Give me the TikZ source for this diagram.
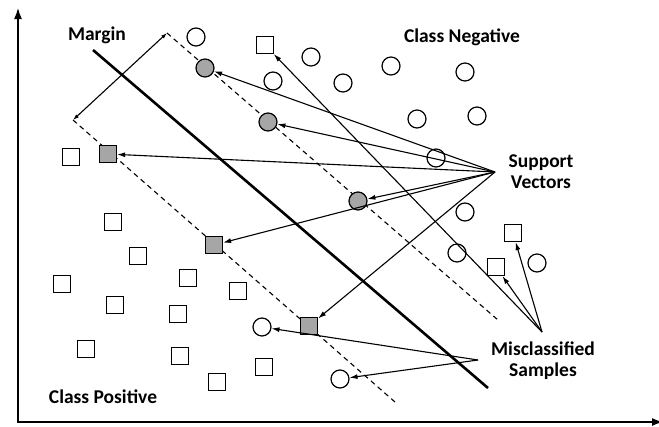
\documentclass[tikz,border=0pt]{standalone}
\usepackage{fontspec}
\setmainfont{Carlito}
\usetikzlibrary{arrows.meta,positioning}

\begin{document}
\begin{tikzpicture}[x=1pt,y=-1pt,
    negpt/.style={circle, draw, line width=1.2pt, minimum size=18pt, inner sep=0pt},
    pospt/.style={rectangle, draw, line width=1.2pt, minimum size=17pt, inner sep=0pt},
    suppt/.style={fill=gray!70},
    lbl/.style={font=\bfseries\fontsize{19.5}{21}\selectfont, align=center, inner sep=0pt},
    ptr/.style={-{Latex[length=8pt,width=5pt]}, line width=1.1pt},
    axis/.style={line width=2.4pt, {Latex[length=12pt,width=8pt]}-{Latex[length=12pt,width=8pt]}}]
    \useasboundingbox (0,0) rectangle (659,426);
    % axes
    \coordinate(ytop) at (18,7);
    \coordinate(orig) at (18,422);
    \coordinate(xend) at (664,422);
    \draw[axis] (ytop) -- (orig) -- (xend);
    % separating line and margins
    \coordinate(hp1) at (93,50);
    \coordinate(hp2) at (488,388);
    \coordinate(mgU1) at (167,33);
    \coordinate(mgU2) at (498,320);
    \coordinate(mgL1) at (73,120);
    \coordinate(mgL2) at (395,402);
    \draw[line width=2.6pt] (hp1) -- (hp2);
    \draw[line width=1.1pt, dash pattern=on 5pt off 4pt] (mgU1) -- (mgU2);
    \draw[line width=1.1pt, dash pattern=on 5pt off 4pt] (mgL1) -- (mgL2);
    \draw[line width=1.1pt, {Latex[length=6pt,width=4pt]}-{Latex[length=6pt,width=4pt]}] (mgL1) -- (mgU1);
    % class negative
    \node(n1) [negpt] at (196,37) {};
    \node(n2) [negpt] at (311,57) {};
    \node(n3) [negpt] at (273,81) {};
    \node(n4) [negpt] at (343,83) {};
    \node(n5) [negpt] at (391,66) {};
    \node(n6) [negpt] at (465,72) {};
    \node(n7) [negpt] at (417,119) {};
    \node(n8) [negpt] at (477,116) {};
    \node(n9) [negpt] at (436,158) {};
    \node(n10) [negpt] at (465,212) {};
    \node(n11) [negpt] at (457,253) {};
    \node(n12) [negpt] at (537,263) {};
    \node(mcn1) [negpt] at (262,327) {};
    \node(mcn2) [negpt] at (340,379) {};
    \node(svn1) [negpt, suppt] at (205,68) {};
    \node(svn2) [negpt, suppt] at (268,122) {};
    \node(svn3) [negpt, suppt] at (358,201) {};
    % class positive
    \node(p1) [pospt] at (71,157) {};
    \node(p2) [pospt] at (113,222) {};
    \node(p3) [pospt] at (138,256) {};
    \node(p4) [pospt] at (62,284) {};
    \node(p5) [pospt] at (188,278) {};
    \node(p6) [pospt] at (238,291) {};
    \node(p7) [pospt] at (115,305) {};
    \node(p8) [pospt] at (178,314) {};
    \node(p9) [pospt] at (86,349) {};
    \node(p10) [pospt] at (180,356) {};
    \node(p11) [pospt] at (264,367) {};
    \node(p12) [pospt] at (217,382) {};
    \node(mcp1) [pospt] at (265,45) {};
    \node(mcp2) [pospt] at (513,233) {};
    \node(mcp3) [pospt] at (496,267) {};
    \node(svp1) [pospt, suppt] at (108,154) {};
    \node(svp2) [pospt, suppt] at (214,245) {};
    \node(svp3) [pospt, suppt] at (309,326) {};
    % labels
    \node(margin) [lbl] at (97,35) {Margin};
    \node(neg) [lbl] at (462,37) {Class Negative};
    \node(svlbl) [lbl] at (541,172) {Support\\Vectors};
    \node(mclbl) [lbl] at (543,361) {Misclassified\\Samples};
    \node(pos) [lbl] at (103,397) {Class Positive};
    % pointers
    \coordinate(svhub) at (495,172);
    \coordinate(mchub) at (542,332);
    \coordinate(mchub2) at (478,360);
    \draw[ptr] (svhub) -- (svn1);
    \draw[ptr] (svhub) -- (svn2);
    \draw[ptr] (svhub) -- (svn3);
    \draw[ptr] (svhub) -- (svp1);
    \draw[ptr] (svhub) -- (svp2);
    \draw[ptr] (svhub) -- (svp3);
    \draw[ptr] (mchub) -- (mcp1);
    \draw[ptr] (mchub) -- (mcp2);
    \draw[ptr] (mchub) -- (mcp3);
    \draw[ptr] (mchub2) -- (mcn1);
    \draw[ptr] (mchub2) -- (mcn2);
\end{tikzpicture}
\end{document}
